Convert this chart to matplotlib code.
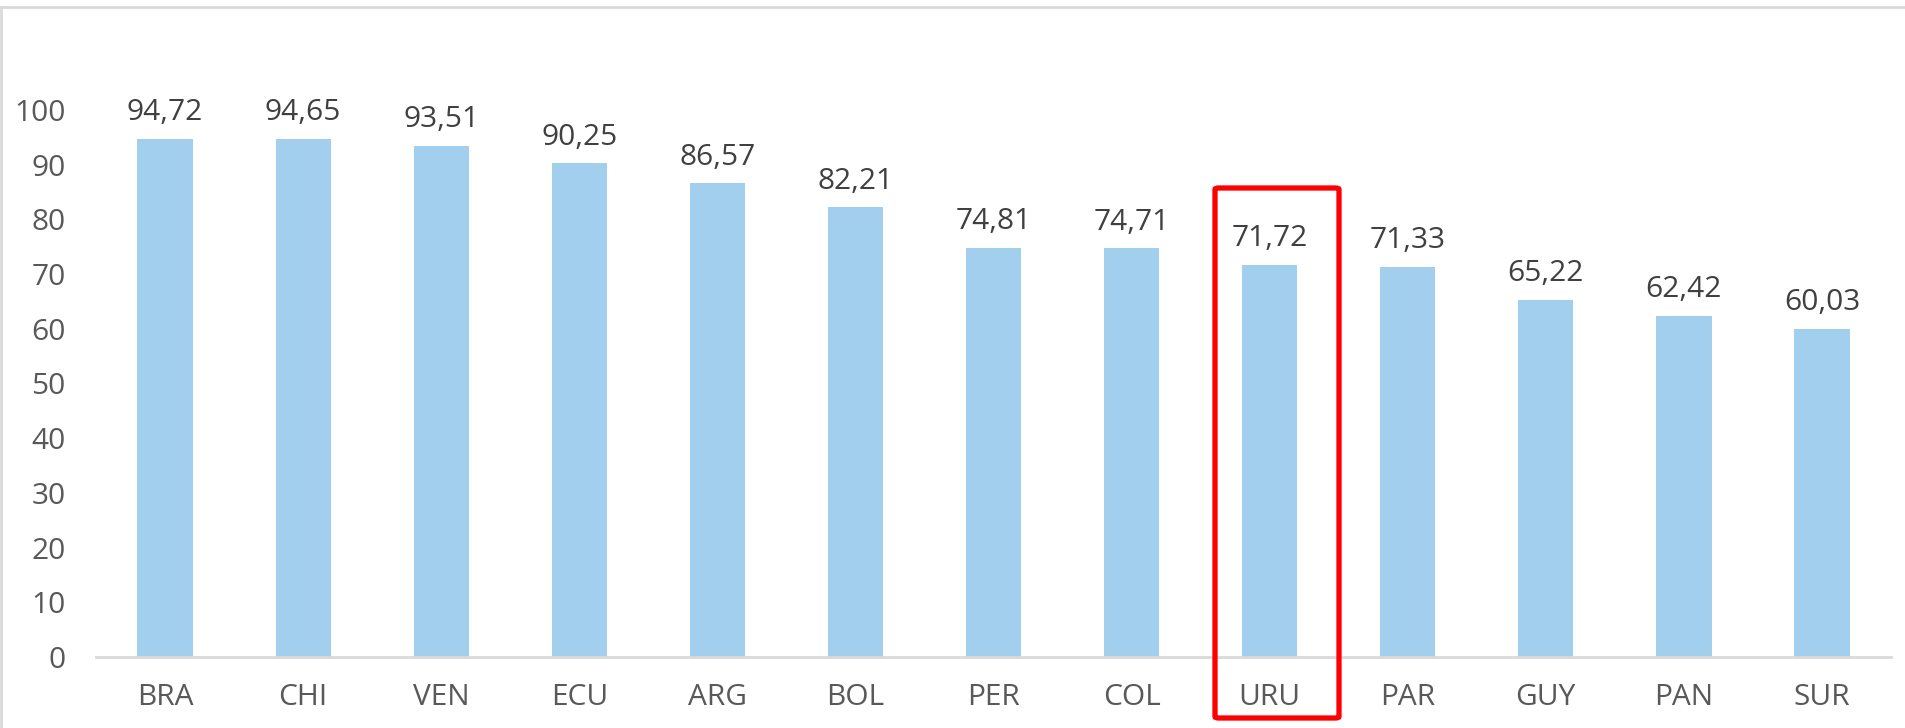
import matplotlib
matplotlib.use("Agg")
import matplotlib.pyplot as plt
from matplotlib.patches import FancyBboxPatch
from matplotlib.lines import Line2D

categories = ["BRA", "CHI", "VEN", "ECU", "ARG", "BOL", "PER", "COL", "URU", "PAR", "GUY", "PAN", "SUR"]
values = [94.72, 94.65, 93.51, 90.25, 86.57, 82.21, 74.81, 74.71, 71.72, 71.33, 65.22, 62.42, 60.03]
yticks = [0, 10, 20, 30, 40, 50, 60, 70, 80, 90, 100]
highlight = "URU"

plt.rcParams['font.family'] = ['Open Sans', 'DejaVu Sans']

W, H = 1905, 728
fig = plt.figure(figsize=(W / 100, H / 100), dpi=100)
ax = fig.add_axes([96 / W, 1 - 657 / H, (1891 - 96) / W, (657 - 110) / H])

FS = 21.5
x = list(range(len(categories)))
bars = ax.bar(x, values, width=0.4, color="#A3CFEE", zorder=2)
ax.set_xlim(-0.5, len(categories) - 0.5)
ax.set_ylim(0, 100)
ax.set_yticks(yticks)
ax.set_yticklabels([str(t) for t in yticks])
ax.set_xticks(x)
ax.set_xticklabels(categories)
ax.tick_params(axis="y", length=0, pad=22, labelsize=FS, labelcolor="#595959")
ax.tick_params(axis="x", length=0, pad=19, labelsize=FS, labelcolor="#595959")
for s in ["top", "right", "left"]:
    ax.spines[s].set_visible(False)
ax.spines["bottom"].set_color("#D9D9D9")
ax.spines["bottom"].set_linewidth(2)

for xi, v in zip(x, values):
    ax.annotate(f"{v:.2f}".replace(".", ","), (xi, v), xytext=(0, 8.5),
                textcoords="offset points", ha="center", va="bottom",
                fontsize=FS, color="#404040", annotation_clip=False)

# chart frame (top and left edges visible)
fig.add_artist(Line2D([1 / W, 1], [1 - 7 / H, 1 - 7 / H], transform=fig.transFigure,
                      color="#D9D9D9", lw=2))
fig.add_artist(Line2D([1 / W, 1 / W], [0, 1 - 7 / H], transform=fig.transFigure,
                      color="#D9D9D9", lw=2))

# red highlight box around URU
hi = categories.index(highlight)
bx0, bx1 = 1215, 1339
by0, by1 = 188, 718
box = FancyBboxPatch((bx0 / W, 1 - by1 / H), (bx1 - bx0) / W, (by1 - by0) / H,
                     boxstyle="round,pad=0,rounding_size=0.002",
                     transform=fig.transFigure, fill=False, edgecolor="#FF0000",
                     linewidth=3.8, zorder=5)
fig.add_artist(box)

fig.savefig("out.png", dpi=100)
